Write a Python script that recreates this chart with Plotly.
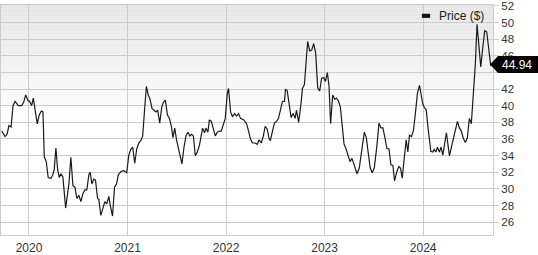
import pandas as pd
import plotly.graph_objects as go

# time of each reading, as decimal year
t_years = [
    2019.724, 2019.757, 2019.777, 2019.797, 2019.818, 2019.838, 2019.858, 2019.892, 2019.926, 2019.946,
    2019.967, 2019.987, 2020.007, 2020.027, 2020.044, 2020.064, 2020.084, 2020.104, 2020.125, 2020.142,
    2020.155, 2020.175, 2020.195, 2020.223, 2020.243, 2020.256, 2020.273, 2020.291, 2020.307, 2020.324,
    2020.344, 2020.372, 2020.392, 2020.405, 2020.425, 2020.446, 2020.466, 2020.486, 2020.506, 2020.527,
    2020.547, 2020.567, 2020.587, 2020.608, 2020.621, 2020.638, 2020.658, 2020.675, 2020.696, 2020.709,
    2020.729, 2020.749, 2020.770, 2020.790, 2020.810, 2020.827, 2020.848, 2020.868, 2020.888, 2020.908,
    2020.932,
    2020.959, 2020.992, 2021.013, 2021.033, 2021.053, 2021.073, 2021.094, 2021.114, 2021.134, 2021.154,
    2021.175, 2021.192, 2021.208, 2021.228, 2021.249, 2021.269, 2021.289, 2021.306, 2021.327, 2021.347,
    2021.364, 2021.384, 2021.405, 2021.425, 2021.445, 2021.461, 2021.479, 2021.499, 2021.519, 2021.536,
    2021.552, 2021.573, 2021.593, 2021.613, 2021.633, 2021.651, 2021.668, 2021.688, 2021.708, 2021.729,
    2021.749, 2021.762, 2021.782, 2021.796, 2021.816, 2021.830, 2021.850, 2021.870, 2021.891, 2021.911,
    2021.931, 2021.951, 2021.972, 2021.992, 2022.012, 2022.025, 2022.046, 2022.066, 2022.086, 2022.106,
    2022.127, 2022.147,
    2022.180, 2022.208, 2022.231, 2022.248, 2022.268, 2022.296, 2022.316, 2022.336, 2022.357, 2022.377,
    2022.397, 2022.417, 2022.438, 2022.451, 2022.471, 2022.491, 2022.512, 2022.532, 2022.552, 2022.572,
    2022.593, 2022.603, 2022.620, 2022.640, 2022.660, 2022.681, 2022.701, 2022.714, 2022.737, 2022.762,
    2022.775, 2022.795, 2022.815, 2022.828, 2022.849, 2022.869, 2022.889, 2022.909, 2022.930, 2022.950,
    2022.970, 2022.990, 2023.008, 2023.028, 2023.045, 2023.061, 2023.082, 2023.102, 2023.122, 2023.142,
    2023.160, 2023.180, 2023.197, 2023.217, 2023.238, 2023.258, 2023.278, 2023.298, 2023.329, 2023.352,
    2023.379, 2023.403, 2023.423, 2023.443, 2023.463, 2023.484, 2023.504, 2023.531, 2023.552, 2023.572,
    2023.592, 2023.612, 2023.633, 2023.653, 2023.673, 2023.693, 2023.710, 2023.734, 2023.754, 2023.770,
    2023.788, 2023.808, 2023.828, 2023.845, 2023.861, 2023.882, 2023.902, 2023.922, 2023.942, 2023.963,
    2023.980, 2023.997, 2024.013, 2024.031, 2024.048, 2024.064, 2024.078, 2024.098, 2024.112, 2024.129,
    2024.145, 2024.165, 2024.182, 2024.200, 2024.220, 2024.236, 2024.253, 2024.267, 2024.287, 2024.307,
    2024.327, 2024.348, 2024.368, 2024.388, 2024.408, 2024.429, 2024.449, 2024.469, 2024.489, 2024.510,
    2024.530, 2024.547, 2024.564, 2024.585, 2024.605, 2024.625, 2024.645, 2024.666, 2024.686, 2024.706,
]

price = [
    36.94, 36.28, 36.55, 37.60, 37.43, 40.00, 40.50, 40.00, 40.00, 40.40,
    41.30, 40.67, 40.50, 40.00, 40.90, 39.45, 37.80, 38.87, 39.36, 39.25,
    33.85, 33.27, 31.35, 31.27, 31.73, 32.30, 34.90, 32.30, 31.35, 31.80,
    31.42, 27.69, 29.42, 30.58, 33.80, 30.38, 30.20, 28.84, 29.23, 28.46,
    29.42, 29.88, 29.88, 31.73, 32.00, 30.58, 31.16, 31.04, 28.84, 28.73,
    26.80, 27.49, 28.46, 28.19, 29.10, 27.88, 26.73, 30.20, 30.58, 31.73,
    32.05,
    32.20, 31.93, 34.05, 34.74, 35.00, 33.08, 34.82, 35.50, 35.78, 36.36,
    39.83, 42.33, 41.36, 40.79, 39.63, 39.45, 39.25, 39.45, 37.90, 39.83,
    40.40, 40.67, 38.87, 38.48, 37.50, 36.16, 37.30, 35.78, 34.82, 33.97,
    33.00, 35.00, 36.36, 36.80, 36.36, 36.55, 36.36, 33.97, 34.43, 35.20,
    36.74, 37.30, 36.74, 37.30, 36.80, 38.29, 38.10, 37.30, 36.36, 36.80,
    36.94, 36.94, 37.83, 38.47, 41.45, 42.06, 39.25, 38.67, 39.05, 38.75,
    39.05, 38.47,
    38.29, 37.83, 36.82, 35.98, 35.51, 35.51, 35.36, 35.90, 35.51, 36.28,
    37.50, 37.20, 35.98, 35.86, 36.94, 37.90, 38.10, 38.47, 39.50, 40.50,
    40.50, 41.94, 41.83, 40.20, 38.59, 39.05, 38.47, 39.45, 37.98, 40.40,
    42.06, 42.52, 46.19, 47.72, 46.57, 46.68, 47.45, 46.38, 42.14, 41.76,
    43.30, 43.38, 42.91, 43.98, 42.33, 37.83, 41.29, 40.79, 40.90, 40.52,
    39.83, 37.50, 35.40, 34.82, 33.97, 33.27, 33.66, 32.89, 31.81, 32.50,
    34.82, 36.82, 36.16, 34.43, 32.50, 31.93, 32.50, 35.20, 37.90, 37.32,
    37.32, 36.16, 34.82, 34.82, 32.89, 32.81, 30.96, 32.12, 32.69, 32.50,
    31.27, 33.66, 35.90, 34.43, 36.43, 36.28, 37.05, 39.13, 41.45, 42.45,
    41.45, 40.20, 39.75, 39.52, 37.51, 35.98, 34.50, 34.43, 34.74, 34.43,
    35.00, 34.43, 35.00, 34.05, 35.58, 36.74, 35.20, 33.97, 35.00, 36.16,
    37.32, 38.10, 37.32, 36.94, 36.05, 35.58, 36.16, 38.47, 37.83, 41.18,
    45.03, 49.77, 46.96, 44.65, 46.96, 49.00, 48.88, 46.84, 44.83, 44.94,
]

year_ticks = ["2020", "2021", "2022", "2023", "2024"]
price_ticks = [26, 28, 30, 32, 34, 36, 38, 40, 42, 44, 46, 48, 50, 52]
hidden_ticks = [44]  # covered by the last-price box in the reference
last_price = 44.94
series_name = "Price ($)"

BASE = pd.Timestamp("2020-01-01")


def to_date(t):
    return BASE + pd.Timedelta(days=(t - 2020) * 365.25)


dates = [to_date(t) for t in t_years]
x_range = [to_date(2019.716), to_date(2024.709)]

FONT = "Liberation Sans, Arial, sans-serif"
GRID = "#cccccc"

fig = go.Figure()
fig.add_trace(go.Scatter(
    x=dates, y=price, mode="lines", name=series_name,
    line=dict(color="#1a1a1a", width=1.2), showlegend=False,
))

shapes = []
# gradient background (top grey -> white at mid height)
n = 30
for i in range(n):
    f = i / n
    c = int(round(0xe6 + (0xff - 0xe6) * f))
    shapes.append(dict(
        type="rect", xref="paper", yref="paper", x0=0, x1=1,
        y0=1 - (i + 1) * 0.5 / n, y1=1 - i * 0.5 / n,
        fillcolor=f"rgb({c},{c},{c})", line=dict(width=0), layer="below",
    ))

# legend symbol
shapes.append(dict(
    type="rect", xref="paper", yref="paper",
    x0=0.8554, x1=0.8722, y0=0.944, y1=0.962,
    fillcolor="#111111", line=dict(width=0), layer="above",
))

# last price marker
shapes.append(dict(
    type="path", xref="paper", yref="y", xsizemode="pixel", ysizemode="pixel",
    xanchor=1, yanchor=last_price,
    path="M-3,0 L5,8.5 L46,8.5 L46,-8.5 L5,-8.5 Z",
    fillcolor="#000000", line=dict(width=0), layer="above",
))

annotations = [
    dict(xref="paper", yref="paper", x=0.886, y=0.954, xanchor="left", yanchor="middle",
         text=series_name, showarrow=False, font=dict(family=FONT, size=12, color="#222222")),
    dict(xref="paper", yref="y", x=1, y=last_price, xanchor="center", yanchor="middle",
         xshift=24, text=f"{last_price:.2f}", showarrow=False,
         font=dict(family=FONT, size=12, color="#ffffff")),
]

fig.update_layout(
    width=538, height=255,
    margin=dict(l=0, r=45, t=4, b=12),
    paper_bgcolor="#ffffff", plot_bgcolor="rgba(0,0,0,0)",
    font=dict(family=FONT, size=11, color="#333333"),
    shapes=shapes, annotations=annotations,
    xaxis=dict(
        type="date", range=x_range,
        tickvals=[to_date(float(y)) for y in year_ticks], ticktext=year_ticks,
        showgrid=True, gridcolor=GRID, gridwidth=1,
        showline=True, linecolor=GRID, linewidth=1, mirror=True,
        ticks="", tickfont=dict(family=FONT, size=12, color="#333333"),
        ticklabelstandoff=2,
        zeroline=False, fixedrange=True,
    ),
    yaxis=dict(
        side="right", range=[24.45, 52.1],
        tickvals=price_ticks,
        ticktext=["" if v in hidden_ticks else str(v) for v in price_ticks],
        showgrid=True, gridcolor=GRID, gridwidth=1,
        showline=True, linecolor=GRID, linewidth=1, mirror=True,
        ticks="outside", ticklen=5, tickcolor=GRID,
        tickfont=dict(family=FONT, size=11.5, color="#333333"),
        ticklabeloverflow="allow",
        zeroline=False, fixedrange=True,
    ),
)

fig.write_html("out.html")
